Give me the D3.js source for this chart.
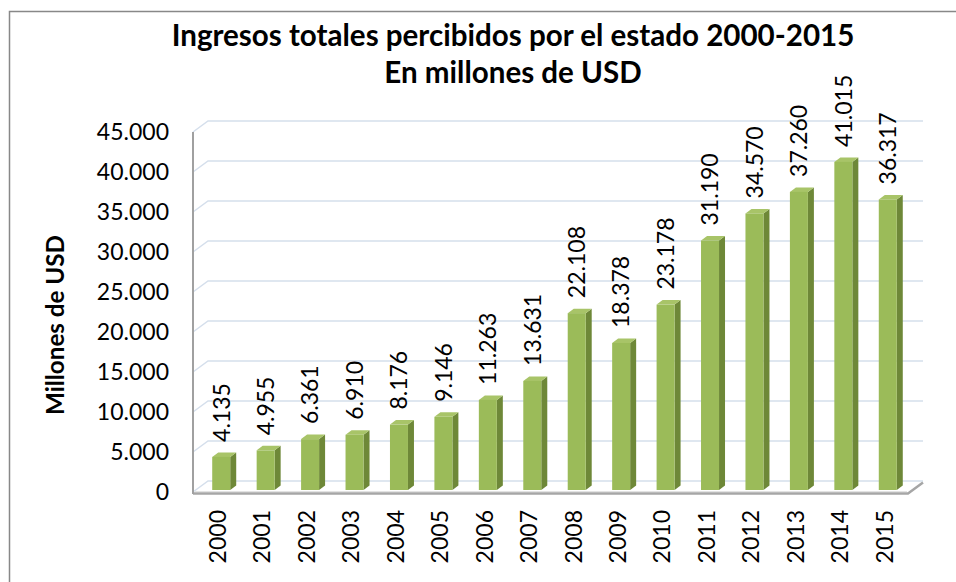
<!DOCTYPE html>
<html>
<head>
<meta charset="utf-8">
<script src="https://cdn.jsdelivr.net/npm/d3@7"></script>
<style>
  body { margin: 0; background: #fff; }
  text { font-family: Lato, "Open Sans", sans-serif; fill: #000; }
</style>
</head>
<body>
<div id="chart"></div>
<script>
var years = ["2000", "2001", "2002", "2003", "2004", "2005", "2006", "2007",
             "2008", "2009", "2010", "2011", "2012", "2013", "2014", "2015"];
var ingresos = [4135, 4955, 6361, 6910, 8176, 9146, 11263, 13631,
                22108, 18378, 23178, 31190, 34570, 37260, 41015, 36317];
var yTicks = [0, 5000, 10000, 15000, 20000, 25000, 30000, 35000, 40000, 45000];
var titulo1 = "Ingresos totales percibidos por el estado 2000-2015";
var titulo2 = "En millones de USD";
var ejeY = "Millones de USD";

var svgWidth = 956;
var svgHeight = 582;

// 3d depth of the walls and of the bars
var wallDx = 15, wallDy = -11;
var barDx = 6, barDy = -4.5;

var locale = d3.formatLocale({ decimal: ",", thousands: ".", grouping: [3], currency: ["", ""] });
var fmt = locale.format(",d");

var svg = d3.select("#chart")
  .append("svg")
  .attr("width", svgWidth)
  .attr("height", svgHeight);

// outer frame (cut off at right and bottom)
svg.append("rect")
  .attr("x", 9.5).attr("y", 11.5)
  .attr("width", 1000).attr("height", 1000)
  .attr("fill", "#fff")
  .attr("stroke", "#888").attr("stroke-width", 1.5);

var xScale = d3.scaleBand()
  .domain(years)
  .range([193, 904])
  .paddingInner(0.595)
  .paddingOuter(0.2975);

var yScale = d3.scaleLinear()
  .domain([0, 45000])
  .range([492, 132]);

// gridlines on side wall and back wall
svg.append("g").selectAll("path")
  .data(yTicks)
  .enter()
  .append("path")
  .attr("d", function(d) {
    var y = yScale(d);
    return "M193," + y + "L" + (193 + wallDx) + "," + (y + wallDy) + "L923," + (y + wallDy);
  })
  .attr("fill", "none")
  .attr("stroke", "#d5dfec")
  .attr("stroke-width", 1.5);

// floor edge
svg.append("path")
  .attr("d", "M193,493.5L908,493.5L" + (908 + wallDx) + "," + (493.5 + wallDy))
  .attr("fill", "none")
  .attr("stroke", "#a6a6a6")
  .attr("stroke-width", 2.5);
svg.append("path")
  .attr("d", "M195,491.5L907,491.5")
  .attr("stroke", "#e3e3e3")
  .attr("stroke-width", 1);

// vertical axis line
svg.append("line")
  .attr("x1", 193).attr("x2", 193)
  .attr("y1", 132).attr("y2", 494)
  .attr("stroke", "#a0a0a0")
  .attr("stroke-width", 2);

// bars
var bw = xScale.bandwidth();
var bars = svg.append("g").selectAll("g")
  .data(ingresos)
  .enter()
  .append("g");

function barX(i) { return xScale(years[i]) + barDx; }
function barTop(d) { return yScale(d) - 2; }
var barBase = yScale(0) - 2;

bars.append("path")
  .attr("d", function(d, i) {
    var x = barX(i) + bw, t = barTop(d);
    return "M" + x + "," + t + "L" + (x + barDx) + "," + (t + barDy) +
      "L" + (x + barDx) + "," + (barBase + barDy) + "L" + x + "," + barBase + "Z";
  })
  .attr("fill", "#6e8838");

bars.append("path")
  .attr("d", function(d, i) {
    var x = barX(i), t = barTop(d);
    return "M" + x + "," + t + "L" + (x + barDx) + "," + (t + barDy) +
      "L" + (x + bw + barDx) + "," + (t + barDy) + "L" + (x + bw) + "," + t + "Z";
  })
  .attr("fill", "#a8c468");

bars.append("rect")
  .attr("x", function(d, i) { return barX(i); })
  .attr("y", function(d) { return barTop(d); })
  .attr("width", bw)
  .attr("height", function(d) { return barBase - barTop(d); })
  .attr("fill", "#9bbb59");

// data labels
svg.append("g").selectAll("text")
  .data(ingresos)
  .enter()
  .append("text")
  .attr("transform", function(d, i) {
    return "translate(" + (barX(i) + bw / 2) + "," + (barTop(d) - 15) + ") rotate(-90)";
  })
  .attr("dy", "0.36em")
  .attr("font-size", 23)
  .text(function(d) { return fmt(d); });

// y tick labels
svg.append("g").selectAll("text")
  .data(yTicks)
  .enter()
  .append("text")
  .attr("x", 169)
  .attr("y", function(d) { return yScale(d); })
  .attr("dy", "0.36em")
  .attr("text-anchor", "end")
  .attr("font-size", 23)
  .text(function(d) { return fmt(d); });

// x tick labels
svg.append("g").selectAll("text")
  .data(years)
  .enter()
  .append("text")
  .attr("transform", function(d) {
    return "translate(" + (xScale(d) + bw / 2 + 2.5) + ",510) rotate(-90)";
  })
  .attr("dy", "0.36em")
  .attr("text-anchor", "end")
  .attr("font-size", 23)
  .text(function(d) { return d; });

// titles
var t1 = svg.append("text")
  .attr("x", 513).attr("y", 46)
  .attr("text-anchor", "middle")
  .attr("font-weight", "bold")
  .attr("font-size", 28)
  .text(titulo1);
var fs = 28 * 683 / t1.node().getComputedTextLength();
t1.attr("font-size", fs);

svg.append("text")
  .attr("x", 513).attr("y", 83)
  .attr("text-anchor", "middle")
  .attr("font-weight", "bold")
  .attr("font-size", fs)
  .text(titulo2);

var yl = svg.append("text")
  .attr("transform", "translate(55,325) rotate(-90)")
  .attr("text-anchor", "middle")
  .attr("dy", "0.36em")
  .attr("font-weight", "bold")
  .attr("font-size", 22)
  .text(ejeY);
yl.attr("font-size", 22 * 180 / yl.node().getComputedTextLength());
</script>
</body>
</html>
